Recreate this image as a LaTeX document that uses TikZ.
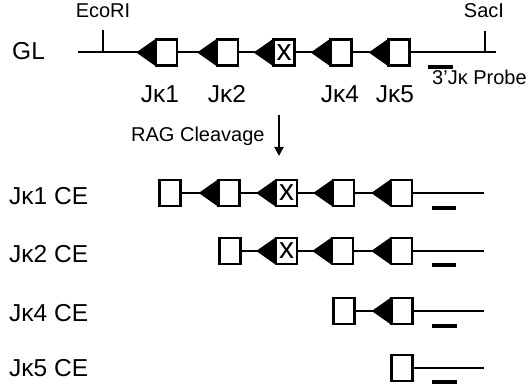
\documentclass[tikz,border=0pt]{standalone}
\usepackage{fontspec}
\setmainfont{Liberation Sans}
\usetikzlibrary{calc,arrows.meta}
\tikzset{
  jbox/.style={draw,line width=2.5pt,minimum width=21pt,minimum height=26pt,inner sep=0pt,fill=white,font=\fontsize{30}{30}\selectfont},
  dna/.style={line width=2pt},
  big/.style={font=\fontsize{24.5}{24.5}\selectfont,inner sep=0pt},
  small/.style={font=\fontsize{20}{20}\selectfont,inner sep=0pt},
  probe/.style={line width=4.5pt},
  rss/.style={fill=black},
}
\newcommand\rss[1]{\fill[rss] ($(#1.west)+(-18.5,0)$) coordinate (#1tip) -- ($(#1.west)+(0,-13)$) -- ($(#1.west)+(0,13)$) -- cycle;}
\begin{document}
\begin{tikzpicture}[x=1pt,y=-1pt]
\useasboundingbox (0,0) rectangle (528,387);
% ---------- germline ----------
\node[big,anchor=base west] (gl) at (12,60) {GL};
\coordinate (gls) at (78,52.5);
\coordinate (gle) at (496,52.5);
\coordinate (eco) at (103,52.5);
\coordinate (sac) at (485,52.5);
\draw[dna] (gls) -- (gle);
\draw[dna] (eco) -- +(0,-22.5);
\draw[dna] (sac) -- +(0,-21);
\node[small,anchor=base] (ecol) at (103,18) {EcoRI};
\node[small,anchor=base] (sacl) at (484,18) {SacI};
\node[jbox] (g1) at (166.5,52.5) {};
\node[jbox] (g2) at (227.5,52.5) {};
\node[jbox] (g3) at (284,52.5) {x};
\node[jbox] (g4) at (341,52.5) {};
\node[jbox] (g5) at (399,52.5) {};
\rss{g1}\rss{g2}\rss{g3}\rss{g4}\rss{g5}
\node[big,anchor=base] (l1) at (160,103) {Jκ1};
\node[big,anchor=base] (l2) at (227,103) {Jκ2};
\node[big,anchor=base] (l4) at (340,103) {Jκ4};
\node[big,anchor=base] (l5) at (395,103) {Jκ5};
\coordinate (gp1) at (428,67);
\coordinate (gp2) at (453,67);
\draw[probe] (gp1) -- (gp2);
\node[small,anchor=base west] (pl) at (432,85) {3’Jκ Probe};
% ---------- cleavage arrow ----------
\node[small,anchor=base west] (rag) at (131,142) {RAG Cleavage};
\coordinate (a1) at (279,115);
\coordinate (a2) at (279,156);
\draw[dna,-{Triangle[length=9pt,width=9pt]}] (a1) -- (a2);
% ---------- Jk1 CE ----------
\node[big,anchor=base west] (r1) at (9,205) {Jκ1 CE};
\coordinate (e1) at (484,193);
\node[jbox] (a11) at (170,193) {};
\node[jbox] (a12) at (229,193) {};
\node[jbox] (a13) at (286.5,193) {x};
\node[jbox] (a14) at (343.5,193) {};
\node[jbox] (a15) at (401.5,193) {};
\draw[dna] (a11) -- (a15) -- (e1);
\rss{a12}\rss{a13}\rss{a14}\rss{a15}
\node[jbox] at (a11) {};\node[jbox] at (a12) {};\node[jbox] at (a13) {x};\node[jbox] at (a14) {};\node[jbox] at (a15) {};
\draw[probe] (432,208) coordinate (p1a) -- (456,208) coordinate (p1b);
% ---------- Jk2 CE ----------
\node[big,anchor=base west] (r2) at (9,263) {Jκ2 CE};
\coordinate (e2) at (484,251);
\node[jbox] (a22) at (230,251) {};
\node[jbox] (a23) at (286.5,251) {x};
\node[jbox] (a24) at (342.5,251) {};
\node[jbox] (a25) at (401.5,251) {};
\draw[dna] (a22) -- (a25) -- (e2);
\rss{a23}\rss{a24}\rss{a25}
\node[jbox] at (a22) {};\node[jbox] at (a23) {x};\node[jbox] at (a24) {};\node[jbox] at (a25) {};
\draw[probe] (432,265) coordinate (p2a) -- (456,265) coordinate (p2b);
% ---------- Jk4 CE ----------
\node[big,anchor=base west] (r3) at (9,322) {Jκ4 CE};
\coordinate (e3) at (484,311);
\node[jbox] (a34) at (344,311) {};
\node[jbox] (a35) at (402,311) {};
\draw[dna] (a34) -- (a35) -- (e3);
\rss{a35}
\node[jbox] at (a34) {};\node[jbox] at (a35) {};
\draw[probe] (432,326) coordinate (p3a) -- (457,326) coordinate (p3b);
% ---------- Jk5 CE ----------
\node[big,anchor=base west] (r4) at (9,377) {Jκ5 CE};
\coordinate (e4) at (484,368);
\node[jbox] (a45) at (402,368) {};
\draw[dna] (a45) -- (e4);
\node[jbox] at (a45) {};
\draw[probe] (432,382) coordinate (p4a) -- (457,382) coordinate (p4b);
\end{tikzpicture}
\end{document}
